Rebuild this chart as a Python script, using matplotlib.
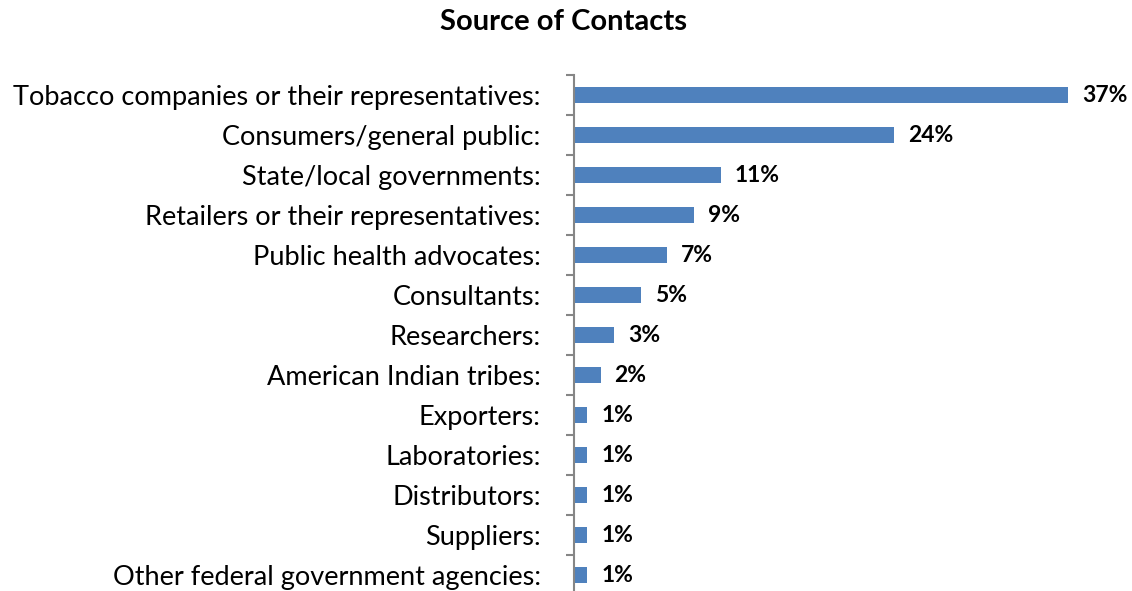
import matplotlib
matplotlib.use("Agg")
import matplotlib.pyplot as plt
import numpy as np

categories = [
    "Tobacco companies or their representatives:",
    "Consumers/general public:",
    "State/local governments:",
    "Retailers or their representatives:",
    "Public health advocates:",
    "Consultants:",
    "Researchers:",
    "American Indian tribes:",
    "Exporters:",
    "Laboratories:",
    "Distributors:",
    "Suppliers:",
    "Other federal government agencies:",
]
values = [37, 24, 11, 9, 7, 5, 3, 2, 1, 1, 1, 1, 1]
labels = ["37%", "24%", "11%", "9%", "7%", "5%", "3%", "2%", "1%", "1%", "1%", "1%", "1%"]
title = "Source of Contacts"

plt.rcParams['font.family'] = ['Lato', 'DejaVu Sans']

W, H = 1132, 591
fig = plt.figure(figsize=(W / 100, H / 100), dpi=100)
left_px, top_px, bottom_px = 574, 75, 595
ax = fig.add_axes([left_px / W, 1 - bottom_px / H, (W - left_px) / W, (bottom_px - top_px) / H])

y = np.arange(len(categories))
ax.barh(y, values, height=0.4, color="#4F81BD")
ax.set_ylim(len(categories) - 0.5, -0.5)
ax.set_xlim(0, (W - left_px) / ((1068 - 574) / 37))

for yi, v, lab in zip(y, values, labels):
    ax.annotate(lab, (v, yi), xytext=(10, 0), textcoords="offset points",
                va="center", ha="left", fontsize=16.5, fontweight="bold", color="black")

for s in ["top", "right", "bottom"]:
    ax.spines[s].set_visible(False)
ax.spines["left"].set_color("#868686")
ax.spines["left"].set_linewidth(1.5)
ax.set_xticks([])
ax.set_yticks(y)
ax.set_yticklabels(categories, fontsize=19.5)
ax.tick_params(axis="y", which="major", length=0, pad=24)
ax.set_yticks(np.arange(-0.5, len(categories), 1.0), minor=True)
ax.tick_params(axis="y", which="minor", length=6, width=1.5, color="#868686")

fig.text(563 / W, 1 - 22 / H, title, ha="center", va="center", fontsize=21, fontweight="bold")

fig.savefig("out.png", dpi=100)
